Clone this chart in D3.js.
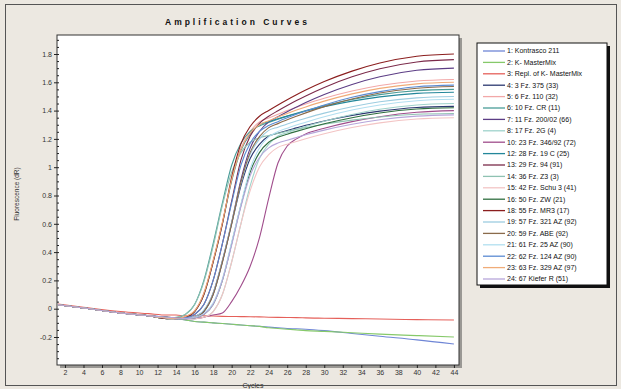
<!DOCTYPE html>
<html>
<head>
<meta charset="utf-8">
<script src="https://cdn.jsdelivr.net/npm/d3@7"></script>
<style>
  html, body { margin: 0; padding: 0; background: #ece8e1; }
  svg { display: block; font-family: "Liberation Sans", Arial, sans-serif; }
  .axis path, .axis line { stroke: #222; }
  .axis text { fill: #333; font-size: 7px; }
</style>
</head>
<body>
<div class="chart"></div>
<script>
// cycles where the readings were taken off the picture
const cycles = [1, 4, 8, 11, 13, 14, 15, 16, 17, 18, 19, 20, 21, 22, 23, 24, 25, 26, 27, 28, 30, 33, 36, 40, 44];

const sampleNames = [
  "1: Kontrasco 211", "2: K- MasterMix", "3: Repl. of K- MasterMix", "4: 3 Fz. 375 (33)",
  "5: 6 Fz. 110 (32)", "6: 10 Fz. CR (11)", "7: 11 Fz. 200/02 (66)", "8: 17 Fz. 2G (4)",
  "10: 23 Fz. 346/92 (72)", "12: 28 Fz. 19 C (25)", "13: 29 Fz. 94 (91)", "14: 36 Fz. Z3 (3)",
  "15: 42 Fz. Schu 3 (41)", "16: 50 Fz. ZW (21)", "18: 55 Fz. MR3 (17)", "19: 57 Fz. 321 AZ (92)",
  "20: 59 Fz. ABE (92)", "21: 61 Fz. 25 AZ (90)", "22: 62 Fz. 124 AZ (90)", "23: 63 Fz. 329 AZ (97)",
  "24: 67 Kiefer R (51)"
];

const sampleColors = [
  "#6f86d6", "#86c96a", "#e5605a", "#2b3870", "#f2a8a8", "#4a9c98", "#5c3d85", "#9fd3cb",
  "#a04d8c", "#23879a", "#7b2a4a", "#8fc2b2", "#f3c4c4", "#2f6e3f", "#8b1e1e", "#9dcde0",
  "#8a6b4b", "#b2dff0", "#5b8bd2", "#f0ac78", "#b6a6da"
];

// fluorescence (dR), one row per sample, same order as sampleNames
const fluorescence = [
  [.03, .005, -.03, -.05, -.065, -.07, -.08, -.09, -.095, -.10, -.105, -.11, -.115, -.12, -.125, -.13, -.135, -.14, -.142, -.145, -.155, -.175, -.195, -.22, -.25],
  [.03, .005, -.03, -.05, -.065, -.07, -.08, -.09, -.095, -.10, -.105, -.11, -.115, -.12, -.125, -.135, -.14, -.145, -.15, -.155, -.16, -.17, -.18, -.19, -.20],
  [.035, .01, -.02, -.035, -.045, -.045, -.05, -.05, -.05, -.052, -.054, -.055, -.056, -.057, -.058, -.06, -.061, -.062, -.063, -.065, -.067, -.07, -.073, -.077, -.08],
  [.03, .005, -.03, -.05, -.06, -.07, -.07, -.06, -.02, .10, .33, .60, .868, 1.061, 1.161, 1.22, 1.24, 1.26, 1.278, 1.296, 1.327, 1.366, 1.396, 1.422, 1.43],
  [.03, .005, -.03, -.05, -.07, -.065, -.055, -.015, .11, .34, .61, .911, 1.135, 1.252, 1.32, 1.348, 1.374, 1.40, 1.424, 1.446, 1.487, 1.538, 1.577, 1.609, 1.62],
  [.03, .005, -.03, -.05, -.07, -.065, -.04, .03, .20, .46, .747, 1.014, 1.17, 1.253, 1.292, 1.316, 1.339, 1.361, 1.381, 1.40, 1.436, 1.479, 1.513, 1.541, 1.55],
  [.03, .005, -.03, -.05, -.065, -.07, -.07, -.055, -.015, .11, .34, .61, .911, 1.135, 1.252, 1.32, 1.357, 1.392, 1.425, 1.457, 1.514, 1.585, 1.639, 1.685, 1.70],
  [.03, .005, -.03, -.05, -.06, -.065, -.07, -.07, -.06, -.02, .10, .33, .60, .868, 1.061, 1.161, 1.22, 1.244, 1.266, 1.287, 1.325, 1.373, 1.409, 1.44, 1.45],
  [.03, .005, -.03, -.05, -.06, -.065, -.07, -.07, -.06, -.045, -.03, .05, .16, .30, .50, .78, 1.03, 1.15, 1.20, 1.235, 1.275, 1.322, 1.357, 1.388, 1.40],
  [.03, .005, -.03, -.05, -.07, -.07, -.06, -.02, .10, .33, .60, .903, 1.12, 1.234, 1.30, 1.321, 1.342, 1.361, 1.379, 1.397, 1.428, 1.467, 1.497, 1.522, 1.53],
  [.03, .005, -.03, -.05, -.065, -.07, -.065, -.04, .03, .20, .46, .76, 1.05, 1.22, 1.31, 1.36, 1.399, 1.436, 1.471, 1.504, 1.564, 1.639, 1.696, 1.744, 1.76],
  [.03, .005, -.03, -.05, -.07, -.06, -.04, .03, .19, .44, .73, .965, 1.103, 1.176, 1.208, 1.224, 1.239, 1.254, 1.268, 1.28, 1.304, 1.333, 1.355, 1.374, 1.38],
  [.03, .005, -.03, -.05, -.065, -.07, -.07, -.07, -.06, -.02, .10, .33, .60, .834, 1.002, 1.089, 1.14, 1.162, 1.182, 1.201, 1.236, 1.28, 1.313, 1.341, 1.35],
  [.03, .005, -.03, -.05, -.06, -.065, -.07, -.065, -.04, .03, .20, .46, .73, .965, 1.103, 1.176, 1.211, 1.233, 1.253, 1.272, 1.307, 1.35, 1.383, 1.411, 1.42],
  [.03, .005, -.03, -.05, -.07, -.07, -.06, -.02, .10, .33, .60, .929, 1.165, 1.288, 1.36, 1.401, 1.44, 1.477, 1.512, 1.545, 1.605, 1.679, 1.736, 1.784, 1.80],
  [.03, .005, -.03, -.05, -.065, -.07, -.065, -.055, -.01, .11, .34, .61, .885, 1.091, 1.198, 1.26, 1.283, 1.306, 1.327, 1.346, 1.382, 1.427, 1.462, 1.49, 1.50],
  [.03, .005, -.03, -.05, -.06, -.065, -.07, -.06, -.02, .10, .33, .60, .894, 1.105, 1.216, 1.28, 1.308, 1.335, 1.36, 1.384, 1.428, 1.482, 1.524, 1.558, 1.57],
  [.03, .005, -.03, -.05, -.065, -.07, -.07, -.06, -.035, .04, .21, .47, .738, .989, 1.136, 1.214, 1.252, 1.276, 1.298, 1.318, 1.356, 1.404, 1.44, 1.47, 1.48],
  [.03, .005, -.03, -.05, -.06, -.07, -.065, -.04, .03, .20, .46, .747, 1.014, 1.17, 1.253, 1.294, 1.322, 1.349, 1.374, 1.397, 1.44, 1.494, 1.534, 1.569, 1.58],
  [.03, .005, -.03, -.05, -.065, -.07, -.055, -.015, .11, .34, .61, .91, 1.125, 1.24, 1.30, 1.328, 1.354, 1.38, 1.404, 1.426, 1.467, 1.518, 1.557, 1.589, 1.60],
  [.03, .005, -.03, -.05, -.06, -.065, -.07, -.065, -.04, .03, .20, .45, .721, .941, 1.069, 1.137, 1.171, 1.191, 1.21, 1.229, 1.262, 1.303, 1.335, 1.361, 1.37]
];

const yTicks = [1.8, 1.6, 1.4, 1.2, 1, 0.8, 0.6, 0.4, 0.2, 0, -0.2];
const xTicks = d3.range(2, 45, 2);

const W = 621, H = 389;
const plot = { left: 57, top: 35, right: 459, bottom: 365 };

const svg = d3.select(".chart").append("svg")
  .attr("width", W).attr("height", H);

// outer frame
svg.append("rect")
  .attr("x", 5.5).attr("y", 4.5).attr("width", W - 10).attr("height", H - 8)
  .attr("fill", "#ece8e1").attr("stroke", "#555");

svg.append("text")
  .attr("x", 165).attr("y", 25)
  .attr("textLength", 142)
  .attr("font-size", 8.5).attr("font-weight", "bold").attr("fill", "#111")
  .text("Amplification Curves");

const x = d3.scaleLinear().domain([1.14, 44.55]).range([plot.left, plot.right]);
const y = d3.scaleLinear().domain([1.8, -0.2]).range([54, 337]);

// plot area with shadow
svg.append("rect")
  .attr("x", plot.left + 3).attr("y", plot.top + 3)
  .attr("width", plot.right - plot.left).attr("height", plot.bottom - plot.top)
  .attr("fill", "#9a9894");
svg.append("rect")
  .attr("x", plot.left).attr("y", plot.top)
  .attr("width", plot.right - plot.left).attr("height", plot.bottom - plot.top)
  .attr("fill", "#fff").attr("stroke", "#333");

svg.append("clipPath").attr("id", "clip")
  .append("rect")
  .attr("x", plot.left + 1).attr("y", plot.top + 1)
  .attr("width", plot.right - plot.left - 2).attr("height", plot.bottom - plot.top - 2);

// minor ticks on left axis
svg.append("g")
  .attr("class", "axis")
  .attr("transform", `translate(${plot.left},0)`)
  .call(d3.axisLeft(y).tickValues(d3.range(-0.35, 1.95, 0.05)).tickSize(-2).tickFormat(""))
  .call(g => g.select(".domain").remove());

svg.append("g")
  .attr("class", "axis")
  .attr("transform", `translate(${plot.left},0)`)
  .call(d3.axisLeft(y).tickValues(yTicks).tickSize(3).tickPadding(2)
    .tickFormat(d => String(+d.toFixed(1))))
  .call(g => g.select(".domain").remove());

svg.append("g")
  .attr("class", "axis")
  .attr("transform", `translate(0,${plot.bottom})`)
  .call(d3.axisBottom(x).tickValues(xTicks).tickSize(3).tickPadding(2))
  .call(g => g.select(".domain").remove());

svg.append("text")
  .attr("x", 253).attr("y", 388)
  .attr("text-anchor", "middle").attr("font-size", 7).attr("fill", "#333")
  .text("Cycles");

svg.append("text")
  .attr("transform", "translate(19,194) rotate(-90)")
  .attr("text-anchor", "middle").attr("font-size", 6.5).attr("fill", "#333")
  .text("Fluorescence (dR)");

const line = d3.line()
  .x((d, i) => x(cycles[i]))
  .y(d => y(d))
  .curve(d3.curveMonotoneX);

svg.append("g")
  .attr("clip-path", "url(#clip)")
  .selectAll("path")
  .data(fluorescence)
  .join("path")
  .attr("d", line)
  .attr("fill", "none")
  .attr("stroke", (d, i) => sampleColors[i])
  .attr("stroke-width", 1.1);

// legend
const lg = { x: 477, y: 43, w: 130, h: 242 };
svg.append("rect")
  .attr("x", lg.x + 3).attr("y", lg.y + 3).attr("width", lg.w).attr("height", lg.h)
  .attr("fill", "#111");
svg.append("rect")
  .attr("x", lg.x).attr("y", lg.y).attr("width", lg.w).attr("height", lg.h)
  .attr("fill", "#fff").attr("stroke", "#111");

const item = svg.append("g").selectAll("g")
  .data(sampleNames)
  .join("g")
  .attr("transform", (d, i) => `translate(${lg.x}, ${lg.y + 8 + i * 11.4})`);
item.append("line")
  .attr("x1", 6).attr("x2", 28)
  .attr("stroke", (d, i) => sampleColors[i]).attr("stroke-width", 1.3);
item.append("text")
  .attr("x", 30).attr("dy", "0.33em")
  .attr("font-size", 7).attr("fill", "#111")
  .text(d => d);
</script>
</body>
</html>
